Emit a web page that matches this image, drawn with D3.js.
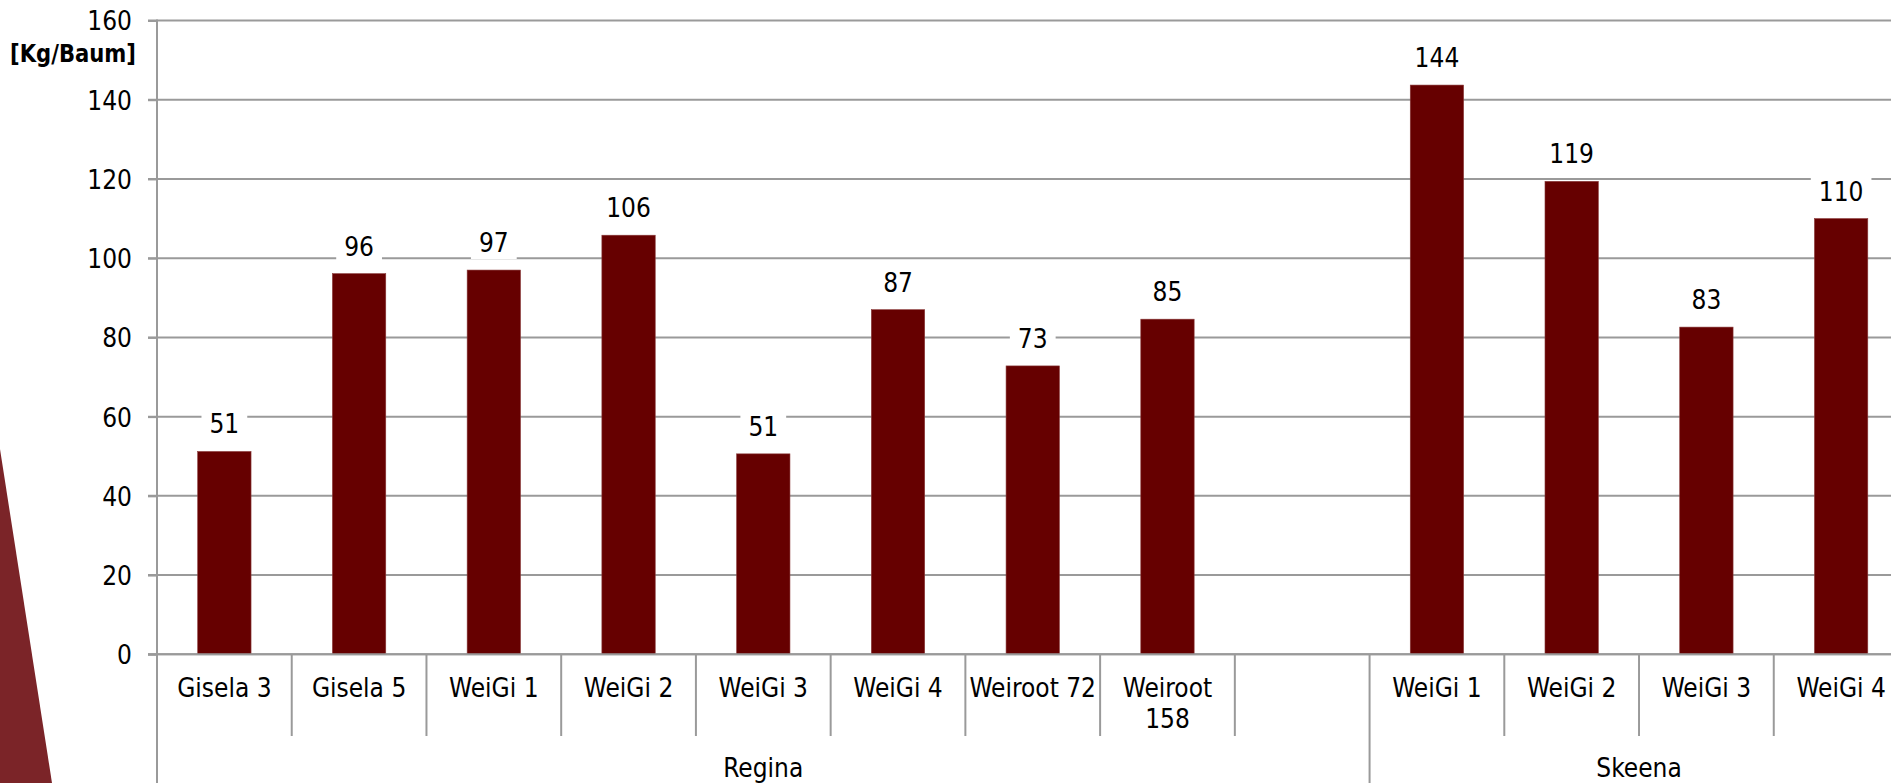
<!DOCTYPE html>
<html>
<head>
<meta charset="utf-8">
<script src="https://cdn.jsdelivr.net/npm/d3@7"></script>
<style>
  body { margin: 0; background: #fff; }
  svg { display: block; }
  text { font-family: "DejaVu Sans Condensed", "DejaVu Sans", sans-serif; font-stretch: condensed; fill: #000; }
</style>
</head>
<body>
<svg id="chart" width="1891" height="783"></svg>
<script>
// chart data
const categories = ['Gisela 3', 'Gisela 5', 'WeiGi 1', 'WeiGi 2', 'WeiGi 3', 'WeiGi 4',
  'Weiroot 72', 'Weiroot 158', '', 'WeiGi 1', 'WeiGi 2', 'WeiGi 3', 'WeiGi 4'];
const values = [51.2, 96.1, 97.0, 105.8, 50.6, 87.0, 72.8, 84.6, null, 143.7, 119.4, 82.6, 110.0];
const groupNames = ['Regina', 'Skeena'];
const groupSizes = [9, 4];
const yTicks = [0, 20, 40, 60, 80, 100, 120, 140, 160];
const yUnit = '[Kg/Baum]';

const svg = d3.select('#chart');
const plotLeft = 157;
const plotTop = 20.5;
const plotBottom = 654.3;
const slot = 134.73;
const plotRight = plotLeft + slot * categories.length; // runs past the picture edge

const grid = '#9a9a9a';

// decorative wedge at the left edge
svg.append('path')
  .attr('d', 'M0,449 L52,783 L0,783 Z')
  .attr('fill', '#7b2428');

const x = d3.scaleBand()
  .domain(d3.range(categories.length))
  .range([plotLeft, plotRight])
  .paddingInner(0.604)
  .paddingOuter(0.302);

const y = d3.scaleLinear()
  .domain([0, 160])
  .range([plotBottom, plotTop]);

// gridlines
svg.append('g')
  .selectAll('line')
  .data(yTicks)
  .join('line')
  .attr('x1', plotLeft - 9)
  .attr('x2', plotRight)
  .attr('y1', (d) => y(d))
  .attr('y2', (d) => y(d))
  .attr('stroke', grid)
  .attr('stroke-width', 2);

// y axis
const yAxis = svg.append('g')
  .attr('transform', `translate(${plotLeft},0)`)
  .call(d3.axisLeft(y).tickValues(yTicks).tickSize(9).tickPadding(16));
yAxis.select('.domain').remove();
yAxis.selectAll('line').attr('stroke', grid).attr('stroke-width', 2);
yAxis.selectAll('text')
  .attr('font-size', 26)
  .attr('dy', '0.36em');

svg.append('line')
  .attr('x1', plotLeft).attr('x2', plotLeft)
  .attr('y1', plotTop - 1).attr('y2', 783)
  .attr('stroke', grid).attr('stroke-width', 2);

svg.append('text')
  .attr('x', 136)
  .attr('y', 62)
  .attr('text-anchor', 'end')
  .attr('font-size', 25)
  .attr('font-weight', 'bold')
  .attr('textLength', 126)
  .attr('lengthAdjust', 'spacingAndGlyphs')
  .text(yUnit);

// bars
const barData = values.map((v, i) => ({ i, v })).filter((d) => d.v !== null);

svg.append('g')
  .selectAll('rect')
  .data(barData)
  .join('rect')
  .attr('x', (d) => x(d.i))
  .attr('width', x.bandwidth())
  .attr('y', (d) => y(d.v))
  .attr('height', (d) => y(0) - y(d.v))
  .attr('fill', '#660000')
  .attr('stroke', '#8a3a3a')
  .attr('stroke-width', 0.6);

// value labels with white boxes that cut the gridlines
const fmt = d3.format('.0f');
const labels = svg.append('g')
  .selectAll('g')
  .data(barData)
  .join('g')
  .attr('transform', (d) => `translate(${x(d.i) + x.bandwidth() / 2},${y(d.v) - 18})`);

labels.append('text')
  .attr('text-anchor', 'middle')
  .attr('font-size', 26)
  .text((d) => fmt(d.v));

labels.each(function () {
  const g = d3.select(this);
  const w = g.select('text').node().getComputedTextLength();
  g.insert('rect', 'text')
    .attr('x', -w / 2 - 8)
    .attr('width', w + 16)
    .attr('y', -25)
    .attr('height', 32)
    .attr('fill', '#fff');
});

// category separators
const edges = d3.range(categories.length + 1).map((k) => plotLeft + k * slot);
const groupEdges = [0];
groupSizes.forEach((n, k) => groupEdges.push(groupEdges[k] + n));

svg.append('g')
  .selectAll('line')
  .data(edges.slice(1))
  .join('line')
  .attr('x1', (d) => d).attr('x2', (d) => d)
  .attr('y1', plotBottom)
  .attr('y2', (d, k) => (groupEdges.includes(k + 1) ? 783 : 736))
  .attr('stroke', grid)
  .attr('stroke-width', 2);

svg.append('line')
  .attr('x1', plotLeft - 9).attr('x2', plotRight)
  .attr('y1', plotBottom).attr('y2', plotBottom)
  .attr('stroke', grid).attr('stroke-width', 2);

// category labels, wrapped when wider than the slot
const catText = svg.append('g')
  .selectAll('text')
  .data(categories)
  .join('text')
  .attr('x', (d, i) => x(i) + x.bandwidth() / 2)
  .attr('y', 697)
  .attr('text-anchor', 'middle')
  .attr('font-size', 26)
  .text((d) => d);

catText.each(function (d) {
  const t = d3.select(this);
  if (this.getComputedTextLength() > slot - 4) {
    const words = d.split(' ');
    const cx = t.attr('x');
    t.text(null);
    t.append('tspan').attr('x', cx).text(words.slice(0, -1).join(' '));
    t.append('tspan').attr('x', cx).attr('dy', 31).text(words[words.length - 1]);
  }
});

// group labels
svg.append('g')
  .selectAll('text')
  .data(groupNames)
  .join('text')
  .attr('x', (d, k) => (edges[groupEdges[k]] + edges[groupEdges[k + 1]]) / 2)
  .attr('y', 777)
  .attr('text-anchor', 'middle')
  .attr('font-size', 26)
  .text((d) => d);
</script>
</body>
</html>
